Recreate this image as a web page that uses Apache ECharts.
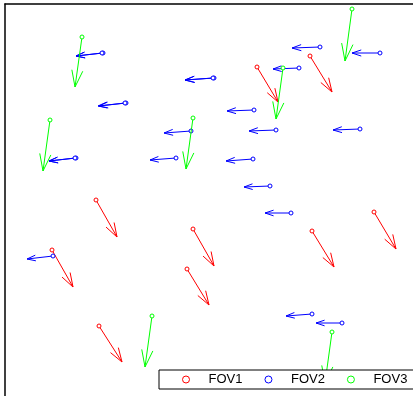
<!DOCTYPE html>
<html>
<head>
<meta charset="utf-8">
<script src="https://cdn.jsdelivr.net/npm/echarts@6/dist/echarts.min.js"></script>
<style>
  html, body { margin: 0; padding: 0; background: #fff; }
  #chart { width: 413px; height: 396px; }
</style>
</head>
<body>
<div id="chart"></div>
<script>
// Displacement vectors per field of view: start position (x, y) and displacement (u, v)
const seriesNames = ['FOV1', 'FOV2', 'FOV3'];
const seriesColors = ['#ff0000', '#0000ff', '#00ff00'];

const fov1X = [252, 305, 91, 47, 188, 182, 307, 369, 94];
const fov1Y = [63, 52, 196, 246, 225, 265, 227, 208, 322];
const fov1U = [21, 22, 21, 21, 21, 22, 22, 22, 23];
const fov1V = [35, 36, 37, 37, 37, 36, 36, 37, 36];

const fov2X = [98, 97, 121, 120, 71, 70, 48, 209, 208, 249, 186, 271, 315, 375, 294, 355, 171, 248, 265, 286, 307, 337];
const fov2Y = [49, 49, 99, 99, 154, 154, 252, 74, 74, 106, 127, 126, 43, 49, 64, 125, 154, 155, 182, 209, 310, 319];
const fov2U = [-27, -26, -27, -27, -27, -26, -26, -29, -28, -27, -27, -27, -28, -28, -26, -27, -26, -27, -26, -26, -26, -26];
const fov2V = [3, 3, 3, 3, 3, 3, 3, 2, 2, 1, 2, 1, 1, 0, 1, 1, 2, 2, 1, 0, 2, 0];

const fov3X = [77, 45, 188, 347, 278, 147, 327];
const fov3Y = [33, 116, 114, 5, 64, 312, 328];
const fov3U = [-7, -7, -7, -7, -7, -7, -7];
const fov3V = [50, 51, 51, 52, 51, 51, 51];

function zipVectors(xs, ys, us, vs) {
  return xs.map((x, i) => [x, ys[i], us[i], vs[i]]);
}

const vectorSets = [
  zipVectors(fov1X, fov1Y, fov1U, fov1V),
  zipVectors(fov2X, fov2Y, fov2U, fov2V),
  zipVectors(fov3X, fov3Y, fov3U, fov3V)
];

// Quiver-style arrow: shaft, open two-barb head, hollow circle at the origin
function makeArrowRenderer(color) {
  return function (params, api) {
    const x = api.value(0), y = api.value(1), u = api.value(2), v = api.value(3);
    const p0 = api.coord([x, y]);
    const p1 = api.coord([x + u, y + v]);
    const dx = p1[0] - p0[0], dy = p1[1] - p0[1];
    const alpha = 0.33, beta = 0.33;
    const b1 = [p1[0] - alpha * (dx + beta * dy), p1[1] - alpha * (dy - beta * dx)];
    const b2 = [p1[0] - alpha * (dx - beta * dy), p1[1] - alpha * (dy + beta * dx)];
    const stroke = { stroke: color, lineWidth: 1, fill: null };
    return {
      type: 'group',
      children: [
        { type: 'polyline', shape: { points: [p0, p1] }, style: stroke },
        { type: 'polyline', shape: { points: [b1, p1, b2] }, style: stroke },
        { type: 'circle', shape: { cx: p0[0], cy: p0[1], r: 2 }, style: { stroke: color, lineWidth: 1, fill: '#fff' } }
      ]
    };
  };
}

const chart = echarts.init(document.getElementById('chart'), null, { renderer: 'canvas' });

chart.setOption({
  animation: false,
  backgroundColor: '#fff',
  grid: { left: 5, top: 4, right: 0, bottom: 0 },
  xAxis: {
    type: 'value', position: 'top', min: 0, max: 408,
    axisLine: { show: true, onZero: false, lineStyle: { color: '#000', width: 1.5 } },
    axisTick: { show: false }, axisLabel: { show: false }, splitLine: { show: false }
  },
  yAxis: {
    type: 'value', inverse: true, position: 'left', min: 0, max: 392,
    axisLine: { show: true, onZero: false, lineStyle: { color: '#000', width: 1.5 } },
    axisTick: { show: false }, axisLabel: { show: false }, splitLine: { show: false }
  },
  legend: {
    left: 159, top: 370, width: 400,
    orient: 'horizontal',
    selectedMode: false,
    itemWidth: 7, itemHeight: 7, itemGap: 22,
    padding: [3, 7, 3, 23],
    borderColor: '#000', borderWidth: 1, backgroundColor: '#fff',
    textStyle: { fontFamily: 'Liberation Sans, Arial, sans-serif', fontSize: 13, color: '#000', padding: [0, 0, 0, 14] },
    data: seriesNames.map((name, i) => ({
      name: name, icon: 'circle',
      itemStyle: { color: '#fff', borderColor: seriesColors[i], borderWidth: 1 }
    }))
  },
  series: seriesNames.map((name, i) => ({
    name: name,
    type: 'custom',
    clip: false,
    itemStyle: { color: seriesColors[i] },
    renderItem: makeArrowRenderer(seriesColors[i]),
    encode: { x: [0, 2], y: [1, 3] },
    data: vectorSets[i]
  }))
});
</script>
</body>
</html>
